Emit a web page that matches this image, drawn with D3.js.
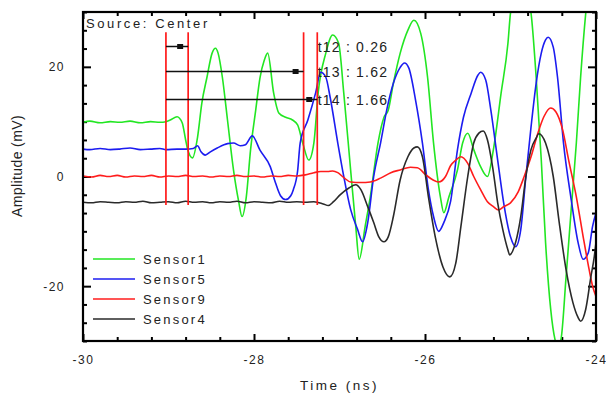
<!DOCTYPE html>
<html><head><meta charset="utf-8">
<script src="https://cdn.jsdelivr.net/npm/d3@7"></script>
<style>
html,body{margin:0;padding:0;background:#fff;}
svg{display:block;font-family:"Liberation Sans",Arial,sans-serif;}
</style></head>
<body><svg id="c" width="606" height="394"></svg>
<script>
// ---------- data ----------
const xDomain = [-30, -24];
const yDomain = [-30, 30];
const xTickLabels = [-30, -28, -26, -24];
const yTickLabels = [-20, 0, 20];
const seriesNames = ["Sensor1", "Sensor5", "Sensor9", "Sensor4"];
const seriesColors = ["#22e622", "#1c1cf0", "#ff1c1c", "#2a2a2a"];

const sensor1 = [[-30.00,9.9],[-29.92,10.1],[-29.80,9.8],[-29.68,10.0],[-29.57,9.9],[-29.45,10.1],[-29.33,9.8],[-29.21,10.0],[-29.10,9.9],[-29.03,10.0],[-28.98,10.3],[-28.90,10.9],[-28.84,9.8],[-28.80,6.7],[-28.78,5.2],[-28.72,3.4],[-28.66,7.2],[-28.61,13.4],[-28.55,18.1],[-28.49,22.5],[-28.45,23.4],[-28.42,22.5],[-28.37,18.1],[-28.31,10.3],[-28.24,1.2],[-28.18,-4.5],[-28.14,-7.3],[-28.09,-3.7],[-28.04,4.9],[-27.98,12.1],[-27.93,18.0],[-27.88,21.2],[-27.84,22.5],[-27.77,15.2],[-27.71,11.6],[-27.63,10.8],[-27.55,10.3],[-27.49,9.4],[-27.43,6.1],[-27.36,3.0],[-27.30,6.1],[-27.25,15.2],[-27.16,22.5],[-27.08,25.8],[-27.01,24.3],[-26.95,15.2],[-26.87,1.2],[-26.81,-9.1],[-26.77,-15.1],[-26.70,-9.1],[-26.64,-3.7],[-26.55,6.1],[-26.48,10.8],[-26.43,12.1],[-26.37,17.0],[-26.29,22.5],[-26.20,26.7],[-26.13,28.5],[-26.05,26.1],[-25.97,18.1],[-25.90,6.1],[-25.82,-3.7],[-25.78,-6.6],[-25.72,-3.7],[-25.62,1.2],[-25.56,6.1],[-25.50,7.9],[-25.43,4.9],[-25.35,1.8],[-25.27,0.0],[-25.20,4.9],[-25.11,15.2],[-25.03,24.3],[-25.00,29.8],[-24.88,37.0],[-24.76,29.8],[-24.70,18.1],[-24.64,3.0],[-24.59,-12.0],[-24.53,-24.2],[-24.48,-29.7],[-24.45,-31.0],[-24.41,-29.7],[-24.35,-18.3],[-24.29,-6.0],[-24.23,6.1],[-24.18,18.1],[-24.12,29.8],[-24.06,38.0],[-24.00,42.0]];

const sensor5 = [[-30.00,5.0],[-29.92,4.9],[-29.80,5.1],[-29.68,4.9],[-29.57,5.0],[-29.45,5.2],[-29.33,4.9],[-29.21,5.0],[-29.10,5.1],[-29.03,4.9],[-28.90,5.0],[-28.80,5.0],[-28.71,5.1],[-28.66,5.6],[-28.62,4.5],[-28.57,3.9],[-28.51,4.5],[-28.43,5.2],[-28.31,6.0],[-28.24,6.1],[-28.16,5.6],[-28.10,5.8],[-28.02,7.4],[-27.93,4.8],[-27.81,1.8],[-27.75,-1.1],[-27.69,-3.5],[-27.63,-4.2],[-27.57,-3.5],[-27.54,-2.4],[-27.49,1.0],[-27.46,6.1],[-27.37,10.3],[-27.28,15.2],[-27.22,19.0],[-27.16,18.1],[-27.11,14.5],[-27.02,6.1],[-26.95,0.0],[-26.87,-6.0],[-26.79,-9.6],[-26.73,-11.9],[-26.67,-8.4],[-26.60,0.0],[-26.52,6.1],[-26.44,12.7],[-26.37,17.0],[-26.29,19.9],[-26.24,20.7],[-26.19,19.8],[-26.11,13.9],[-26.03,6.1],[-25.96,-2.4],[-25.90,-7.3],[-25.84,-10.0],[-25.78,-8.4],[-25.70,-4.5],[-25.62,4.9],[-25.55,10.8],[-25.46,15.2],[-25.38,18.5],[-25.35,19.0],[-25.29,17.6],[-25.23,12.1],[-25.15,3.0],[-25.08,-4.8],[-25.00,-11.0],[-24.94,-12.8],[-24.88,-9.7],[-24.82,0.0],[-24.76,9.0],[-24.70,17.0],[-24.64,22.5],[-24.59,24.9],[-24.56,25.4],[-24.50,23.6],[-24.45,18.1],[-24.38,6.1],[-24.29,-4.2],[-24.21,-12.0],[-24.15,-15.1],[-24.09,-13.9],[-24.04,-9.1],[-24.00,-6.6]];

const sensor9 = [[-30.00,0.1],[-29.90,-0.1],[-29.80,0.2],[-29.70,0.0],[-29.60,0.2],[-29.50,-0.1],[-29.40,0.1],[-29.30,0.0],[-29.20,0.2],[-29.10,-0.1],[-29.00,0.1],[-28.90,0.0],[-28.80,0.2],[-28.70,0.0],[-28.60,0.1],[-28.50,-0.1],[-28.40,0.1],[-28.30,0.0],[-28.20,0.2],[-28.10,0.0],[-28.00,0.1],[-27.90,-0.1],[-27.80,0.1],[-27.70,0.0],[-27.60,0.2],[-27.50,0.1],[-27.40,0.3],[-27.30,0.7],[-27.22,0.9],[-27.14,0.9],[-27.08,1.0],[-27.02,0.7],[-26.95,-0.2],[-26.87,-1.0],[-26.75,-1.1],[-26.64,-1.0],[-26.52,-0.3],[-26.40,0.7],[-26.29,1.2],[-26.17,1.7],[-26.09,1.6],[-25.99,0.3],[-25.91,-0.6],[-25.84,-1.0],[-25.76,0.0],[-25.70,2.0],[-25.64,3.0],[-25.58,3.6],[-25.50,2.4],[-25.43,0.0],[-25.35,-2.4],[-25.27,-4.6],[-25.20,-5.5],[-25.14,-6.1],[-25.08,-5.5],[-25.00,-4.8],[-24.91,-2.8],[-24.84,0.0],[-24.76,3.6],[-24.68,7.9],[-24.61,10.9],[-24.53,12.5],[-24.47,11.8],[-24.39,8.5],[-24.32,3.0],[-24.23,-3.7],[-24.15,-11.0],[-24.08,-17.0],[-24.04,-20.0],[-24.00,-21.9]];

const sensor4 = [[-30.00,-4.7],[-29.90,-4.8],[-29.80,-4.6],[-29.70,-4.7],[-29.60,-4.8],[-29.50,-4.6],[-29.40,-4.7],[-29.30,-4.5],[-29.20,-4.8],[-29.10,-4.7],[-29.00,-4.6],[-28.90,-4.8],[-28.80,-4.5],[-28.70,-4.7],[-28.60,-4.6],[-28.50,-4.8],[-28.40,-4.6],[-28.30,-4.7],[-28.20,-4.5],[-28.10,-4.8],[-28.00,-4.6],[-27.90,-4.7],[-27.80,-4.8],[-27.70,-4.5],[-27.60,-4.7],[-27.50,-4.6],[-27.40,-4.7],[-27.30,-4.6],[-27.19,-5.0],[-27.13,-5.3],[-27.07,-4.6],[-26.99,-3.3],[-26.89,-2.1],[-26.81,-1.5],[-26.75,-2.4],[-26.67,-5.5],[-26.60,-8.4],[-26.54,-11.0],[-26.48,-11.9],[-26.43,-11.0],[-26.37,-7.3],[-26.29,-0.6],[-26.20,3.6],[-26.13,5.2],[-26.09,5.4],[-26.03,3.6],[-25.96,-3.7],[-25.88,-11.0],[-25.79,-16.5],[-25.71,-18.3],[-25.64,-15.8],[-25.58,-9.1],[-25.50,0.0],[-25.43,6.1],[-25.37,7.9],[-25.32,8.3],[-25.27,6.7],[-25.21,1.8],[-25.15,-4.8],[-25.09,-9.7],[-25.03,-13.4],[-25.01,-14.3],[-24.94,-12.0],[-24.88,-7.3],[-24.82,0.0],[-24.76,4.9],[-24.70,7.0],[-24.67,7.8],[-24.59,6.1],[-24.50,0.0],[-24.43,-8.4],[-24.35,-17.0],[-24.27,-23.0],[-24.21,-25.7],[-24.18,-26.4],[-24.12,-24.2],[-24.06,-18.3],[-24.02,-14.6],[-24.00,-12.0]];

// markers (ns) and annotation rows
const markerTimes = [-29.03, -28.77, -27.42, -27.26];
const markerSpan = [26.3, -5.2];            // vertical extent of marker lines (mV)
const intervalEnds = [-28.77, -27.42, -27.26];
const intervalLevels = [23.8, 19.2, 14.1];   // mV
const intervalLabels = ["t12 : 0.26", "t13 : 1.62", "t14 : 1.66"];
const sourceLabel = "Source: Center";

// ---------- layout ----------
const svg = d3.select("#c");
const L = 83, R = 596, T = 12, B = 341;
const x = d3.scaleLinear().domain(xDomain).range([L, R]);
const y = d3.scaleLinear().domain(yDomain).range([B, T]);

svg.append("defs").append("clipPath").attr("id","clip")
  .append("rect").attr("x",L).attr("y",T).attr("width",R-L).attr("height",B-T);

const xMinor = d3.range(-30, -23.99, 0.4).filter(v => !xTickLabels.some(t => Math.abs(t-v)<1e-6));
const yMinor = d3.range(-30, 30.01, 10/3).filter(v => !yTickLabels.some(t => Math.abs(t-v)<1e-6));

function styleAxis(g){
  g.select(".domain").remove();
  g.selectAll(".tick line").attr("stroke","#000").attr("stroke-width",2);
  g.selectAll("text").attr("fill","#222").style("font-size","12px").style("letter-spacing","1.5px")
   .style("font-family","'Liberation Sans',Arial,sans-serif");
}
const fmt = d => String(d);
// bottom
svg.append("g").attr("transform",`translate(0,${B})`)
  .call(d3.axisBottom(x).tickValues(xTickLabels).tickSize(-7).tickPadding(14).tickFormat(fmt)).call(styleAxis);
svg.append("g").attr("transform",`translate(0,${B})`)
  .call(d3.axisBottom(x).tickValues(xMinor).tickSize(-4).tickFormat("")).call(styleAxis);
// top
svg.append("g").attr("transform",`translate(0,${T})`)
  .call(d3.axisTop(x).tickValues(xTickLabels).tickSize(-7).tickFormat("")).call(styleAxis);
svg.append("g").attr("transform",`translate(0,${T})`)
  .call(d3.axisTop(x).tickValues(xMinor).tickSize(-4).tickFormat("")).call(styleAxis);
// left
svg.append("g").attr("transform",`translate(${L},0)`)
  .call(d3.axisLeft(y).tickValues(yTickLabels).tickSize(-8).tickPadding(18).tickFormat(fmt)).call(styleAxis);
svg.append("g").attr("transform",`translate(${L},0)`)
  .call(d3.axisLeft(y).tickValues(yMinor).tickSize(-4).tickFormat("")).call(styleAxis);
// right
svg.append("g").attr("transform",`translate(${R},0)`)
  .call(d3.axisRight(y).tickValues(yTickLabels).tickSize(-8).tickFormat("")).call(styleAxis);
svg.append("g").attr("transform",`translate(${R},0)`)
  .call(d3.axisRight(y).tickValues(yMinor).tickSize(-4).tickFormat("")).call(styleAxis);

// series
const line = d3.line().x(d => x(d[0])).y(d => y(d[1])).curve(d3.curveMonotoneX);
const allSeries = [sensor1, sensor5, sensor9, sensor4];
const gS = svg.append("g").attr("clip-path","url(#clip)");
allSeries.forEach((s,i) => {
  gS.append("path").datum(s).attr("d", line).attr("fill","none")
    .attr("stroke", seriesColors[i]).attr("stroke-width",1.6).attr("stroke-linejoin","round");
});

// marker lines
svg.append("g").selectAll("line").data(markerTimes).join("line")
  .attr("x1", d => x(d)).attr("x2", d => x(d))
  .attr("y1", y(markerSpan[0])).attr("y2", y(markerSpan[1]))
  .attr("stroke","#ff1a1a").attr("stroke-width",1.7);

// intervals
const gI = svg.append("g");
intervalEnds.forEach((e,i) => {
  const yy = Math.round(y(intervalLevels[i])) + 0.5;
  gI.append("line").attr("x1", x(markerTimes[0])).attr("x2", x(e))
    .attr("y1", yy).attr("y2", yy).attr("stroke","#111").attr("stroke-width",1.5);
  gI.append("rect").attr("x", x(e)-11).attr("y", yy-2.5).attr("width",6).attr("height",5).attr("fill","#111");
  gI.append("text").attr("x", x(intervalEnds[2]) + 0.5).attr("y", yy + 5)
    .attr("fill","#222").style("font-size","14px").style("letter-spacing","1.2px").text(intervalLabels[i]);
});

// source label
svg.append("text").attr("x", L+3).attr("y", T+16).attr("fill","#222")
  .style("font-size","13px").style("letter-spacing","2.6px").text(sourceLabel);

// legend
const lg = svg.append("g");
seriesNames.forEach((n,i) => {
  const yy = 259 + i*20;
  lg.append("line").attr("x1",93).attr("x2",135).attr("y1",yy).attr("y2",yy)
    .attr("stroke",seriesColors[i]).attr("stroke-width",1.6);
  lg.append("text").attr("x",143).attr("y",yy+5).attr("fill","#222")
    .style("font-size","13px").style("letter-spacing","2.2px").text(n);
});

// frame
svg.append("rect").attr("x",L).attr("y",T).attr("width",R-L).attr("height",B-T)
  .attr("fill","none").attr("stroke","#000").attr("stroke-width",2.2);

// axis titles
svg.append("text").attr("x",(L+R)/2).attr("y",390).attr("text-anchor","middle").attr("fill","#222")
  .style("font-size","13.5px").style("letter-spacing","2.5px").text("Time (ns)");
svg.append("text").attr("transform",`translate(22,166) rotate(-90)`).attr("text-anchor","middle").attr("fill","#222")
  .style("font-size","14px").style("letter-spacing","0.4px").text("Amplitude (mV)");
</script></body></html>
